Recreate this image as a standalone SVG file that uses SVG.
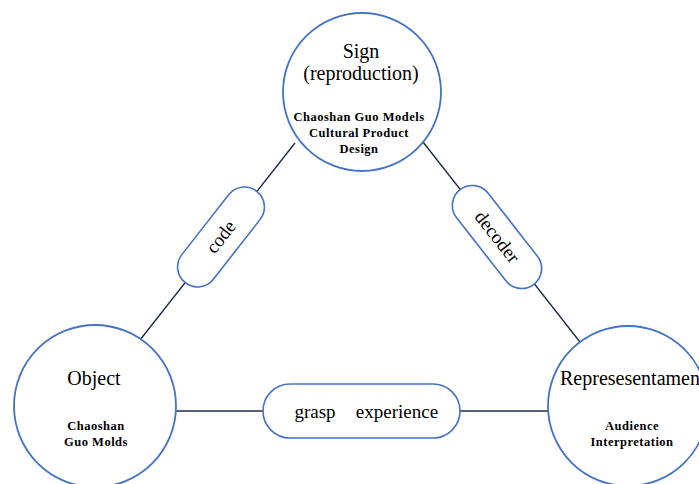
<svg xmlns="http://www.w3.org/2000/svg" width="699" height="484" viewBox="0 0 699 484">
<style>
.circ{fill:#fff;stroke:#4472c4;stroke-width:1.8}
.pill{fill:#fff;stroke:#4472c4;stroke-width:1.6}
.conn{stroke:#1f2a44;stroke-width:1.4;fill:none}
.t{font-family:"Liberation Serif","Times New Roman",serif;fill:#000;text-anchor:middle}
.big{font-size:20px}
.small{font-size:12.5px;font-weight:bold;letter-spacing:0.5px}
.lab{font-size:19px}
</style>
<rect width="699" height="484" fill="#fff"/>
<g id="connectors">
<line class="conn" x1="295" y1="143" x2="140" y2="340"/>
<line class="conn" x1="423" y1="142" x2="580" y2="342"/>
<line class="conn" x1="176" y1="411" x2="549" y2="411"/>
</g>
<g id="sign">
<circle class="circ" cx="362" cy="92" r="79"/>
<text class="t big" x="361" y="58">Sign</text>
<text class="t big" x="361" y="80">(reproduction)</text>
<text class="t small" x="359" y="121">Chaoshan Guo Models</text>
<text class="t small" x="359" y="137">Cultural Product</text>
<text class="t small" x="359" y="153">Design</text>
</g>
<g id="object">
<circle class="circ" cx="95" cy="406" r="81"/>
<text class="t big" x="94" y="385">Object</text>
<text class="t small" x="96" y="430">Chaoshan</text>
<text class="t small" x="96" y="446">Guo Molds</text>
</g>
<g id="representamen">
<circle class="circ" cx="628" cy="406" r="80"/>
<text class="t big" x="630" y="385">Represesentamen</text>
<text class="t small" x="632" y="430">Audience</text>
<text class="t small" x="632" y="446">Interpretation</text>
</g>
<g id="code" transform="translate(221,237) rotate(-52)">
<rect class="pill" x="-58" y="-20" width="116" height="40" rx="20"/>
<text class="t lab" x="0" y="6">code</text>
</g>
<g id="decoder" transform="translate(497,237) rotate(52)">
<rect class="pill" x="-60" y="-20" width="120" height="40" rx="20"/>
<text class="t lab" x="0" y="6">decoder</text>
</g>
<g id="grasp-experience">
<rect class="pill" x="263" y="384" width="197" height="54" rx="27"/>
<text class="t lab" y="418"><tspan x="315">grasp</tspan><tspan x="397">experience</tspan></text>
</g>
</svg>
